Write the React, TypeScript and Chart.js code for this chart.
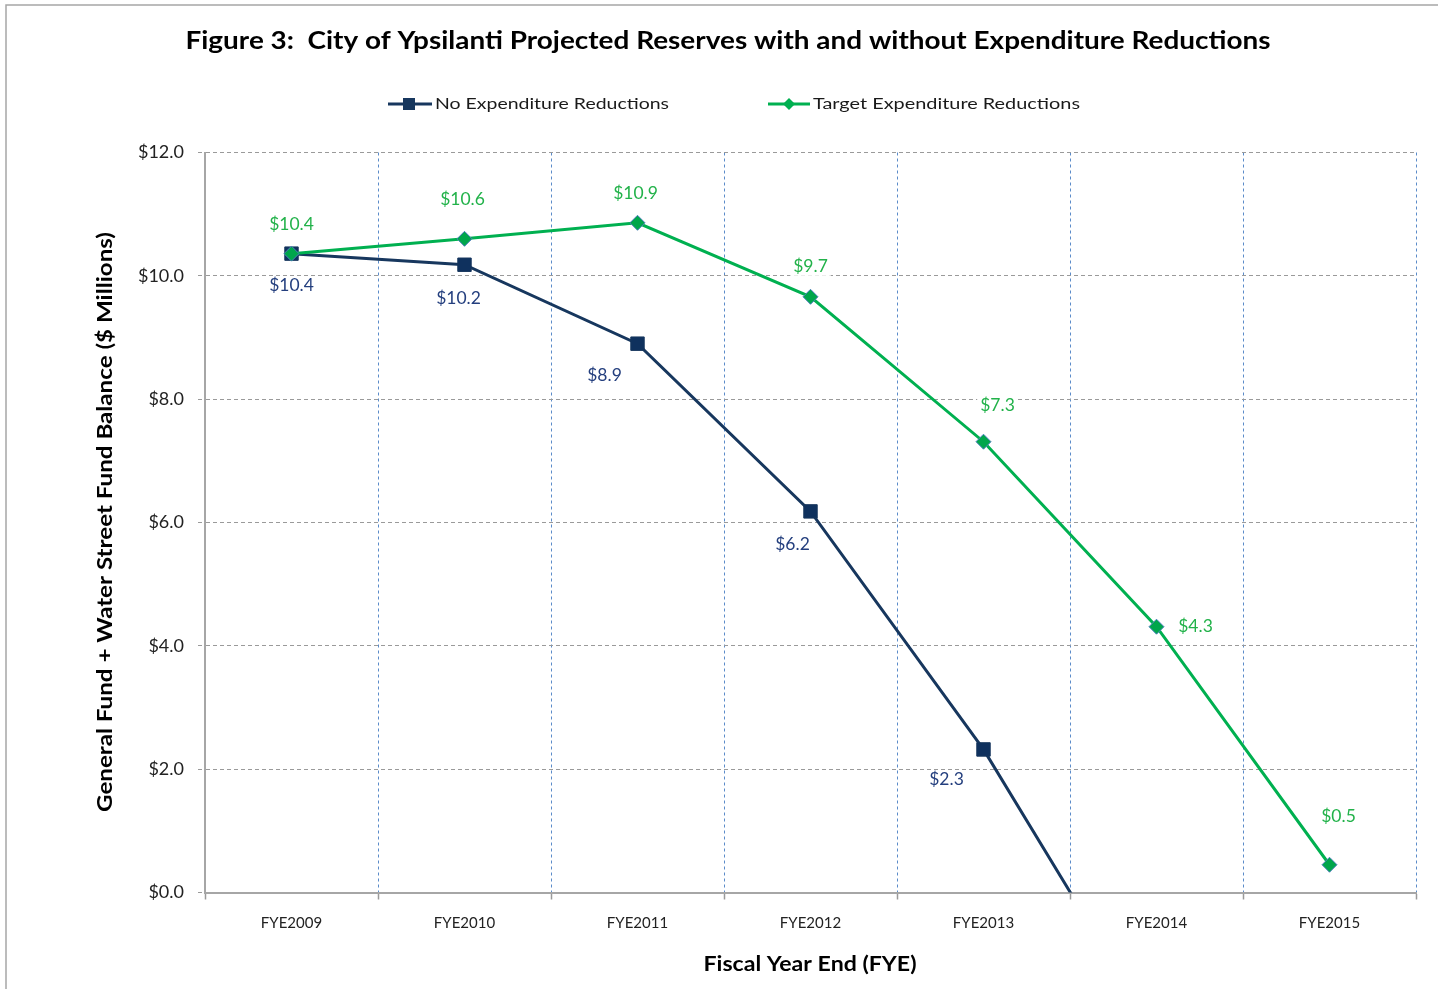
import React, { useEffect, useRef } from "react";
import { Chart, registerables } from "chart.js";

Chart.register(...registerables);

// ---------- data ----------
const categories = ["FYE2009", "FYE2010", "FYE2011", "FYE2012", "FYE2013", "FYE2014", "FYE2015"];
const noReductions: (number | null)[] = [10.36, 10.18, 8.9, 6.18, 2.32, -2.3, null];
const targetReductions: (number | null)[] = [10.36, 10.6, 10.86, 9.66, 7.31, 4.31, 0.45];
const yMin = 0;
const yMax = 12;
const yStep = 2;
const seriesNames = ["No Expenditure Reductions", "Target Expenditure Reductions"];
const titleText = "Figure 3:  City of Ypsilanti Projected Reserves with and without Expenditure Reductions";
const yTitle = "General Fund + Water Street Fund Balance ($ Millions)";
const xTitle = "Fiscal Year End (FYE)";

// ---------- label placement (styling) ----------
const blueLabelDx = [0, -6, -33, -18, -37, 0, 0];
const blueLabelDy = [32, 34, 32, 33, 30, 0, 0];
const greenLabelDx = [0, -2, -2, 0, 14, 39, 9];
const greenLabelDy = [-29, -39, -29, -30, -36, 0, -48];

const FONT = "Lato, 'Open Sans', sans-serif";
const BLUE = "#17375E";
const GREEN = "#00B050";
const BLUE_TEXT = "#243F7E";
const GREEN_TEXT = "#22B24A";

function drawFitted(
  ctx: CanvasRenderingContext2D,
  text: string,
  cx: number,
  cy: number,
  size: number,
  weight: string,
  targetW: number,
  color: string,
  align: "center" | "left" = "center",
  rotate = 0
) {
  ctx.save();
  ctx.font = `${weight} ${size}px ${FONT}`;
  const w = ctx.measureText(text).width;
  ctx.translate(cx, cy);
  if (rotate) ctx.rotate(rotate);
  ctx.scale(targetW / w, 1);
  ctx.fillStyle = color;
  ctx.textAlign = align;
  ctx.textBaseline = "middle";
  ctx.fillText(text, 0, 0);
  ctx.restore();
}

const decorPlugin = {
  id: "decor",
  beforeDraw(chart: any) {
    const ctx: CanvasRenderingContext2D = chart.ctx;
    ctx.save();
    ctx.fillStyle = "#ffffff";
    ctx.fillRect(0, 0, chart.width, chart.height);
    ctx.strokeStyle = "#a6a6a6";
    ctx.lineWidth = 1.5;
    ctx.beginPath();
    ctx.moveTo(6, chart.height + 2);
    ctx.lineTo(6, 5);
    ctx.lineTo(chart.width + 2, 5);
    ctx.stroke();
    ctx.restore();
  },
  afterDraw(chart: any) {
    const ctx: CanvasRenderingContext2D = chart.ctx;
    // title
    drawFitted(ctx, titleText, 728, 41, 24, "bold", 1085, "#000");
    // legend
    ctx.save();
    ctx.lineWidth = 3;
    ctx.strokeStyle = BLUE;
    ctx.beginPath();
    ctx.moveTo(388, 104);
    ctx.lineTo(432, 104);
    ctx.stroke();
    ctx.fillStyle = BLUE;
    ctx.fillRect(403, 98, 12, 12);
    ctx.strokeStyle = GREEN;
    ctx.beginPath();
    ctx.moveTo(768, 104);
    ctx.lineTo(810, 104);
    ctx.stroke();
    ctx.fillStyle = GREEN;
    ctx.beginPath();
    ctx.moveTo(789, 98);
    ctx.lineTo(795, 104);
    ctx.lineTo(789, 110);
    ctx.lineTo(783, 104);
    ctx.closePath();
    ctx.fill();
    ctx.restore();
    drawFitted(ctx, seriesNames[0], 435, 104, 15.5, "normal", 234, "#1a1a1a", "left");
    drawFitted(ctx, seriesNames[1], 813, 104, 15.5, "normal", 267, "#1a1a1a", "left");
    // axis titles
    drawFitted(ctx, yTitle, 106, 522, 20, "bold", 580, "#000", "center", -Math.PI / 2);
    drawFitted(ctx, xTitle, 810, 965, 20, "bold", 213, "#000", "center");
  },
  afterDatasetsDraw(chart: any) {
    const ctx: CanvasRenderingContext2D = chart.ctx;
    const area = chart.chartArea;
    const specs = [
      { ds: 0, dx: blueLabelDx, dy: blueLabelDy, color: BLUE_TEXT },
      { ds: 1, dx: greenLabelDx, dy: greenLabelDy, color: GREEN_TEXT },
    ];
    ctx.save();
    ctx.font = `normal 17.5px ${FONT}`;
    ctx.textAlign = "center";
    ctx.textBaseline = "middle";
    for (const s of specs) {
      const meta = chart.getDatasetMeta(s.ds);
      const data = chart.data.datasets[s.ds].data as (number | null)[];
      meta.data.forEach((pt: any, i: number) => {
        const v = data[i];
        if (v === null || v === undefined || v < yMin || v > yMax) return;
        const text = "$" + v.toFixed(1);
        const x = pt.x + s.dx[i];
        const y = pt.y + s.dy[i];
        if (y > area.bottom) return;
        const w = ctx.measureText(text).width;
        ctx.fillStyle = "#ffffff";
        ctx.fillRect(x - w / 2 - 3, y - 9, w + 6, 18);
        ctx.fillStyle = s.color;
        ctx.fillText(text, x, y);
      });
    }
    ctx.restore();
  },
};

export default function App() {
  const ref = useRef<HTMLCanvasElement>(null);
  useEffect(() => {
    if (!ref.current) return;
    const chart = new Chart(ref.current, {
      type: "line",
      data: {
        labels: categories,
        datasets: [
          {
            label: seriesNames[0],
            data: noReductions,
            borderColor: BLUE,
            backgroundColor: BLUE,
            borderWidth: 3,
            pointStyle: "rect",
            pointRadius: 9.5,
            pointBackgroundColor: "#0F315E",
            pointBorderColor: BLUE,
            pointBorderWidth: 1,
            tension: 0,
            order: 1,
          },
          {
            label: seriesNames[1],
            data: targetReductions,
            borderColor: GREEN,
            backgroundColor: GREEN,
            borderWidth: 3,
            pointStyle: "rectRot",
            pointRadius: 7.5,
            pointBackgroundColor: "#00A64B",
            pointBorderColor: "#4F81BD",
            pointBorderWidth: 1,
            tension: 0,
            order: 0,
          },
        ],
      },
      options: {
        responsive: false,
        animation: false,
        layout: { padding: { left: 0, top: 152.5, right: 22, bottom: 0 } },
        plugins: {
          legend: { display: false },
          title: { display: false },
          tooltip: { enabled: false },
        },
        scales: {
          x: {
            type: "category",
            offset: true,
            afterFit: (s: any) => {
              s.height = 96.5;
            },
            grid: {
              offset: true,
              color: "#5B8BC9",
              lineWidth: 1,
              tickColor: "#9a9a9a",
              tickLength: 7,
              tickWidth: 1.5,
              tickBorderDash: [],
            },
            border: { color: "#a6a6a6", width: 2, dash: [3, 3] },
            ticks: {
              autoSkip: false,
              maxRotation: 0,
              padding: 15,
              color: "#222",
              font: { family: FONT, size: 15 },
            },
          },
          y: {
            min: yMin,
            max: yMax,
            afterFit: (s: any) => {
              s.width = 205;
            },
            grid: {
              color: "#9a9a9a",
              lineWidth: 1,
              tickColor: "#9a9a9a",
              tickLength: 7,
              tickBorderDash: [4, 3],
            },
            border: { color: "#a6a6a6", width: 2, dash: [4, 3] },
            ticks: {
              stepSize: yStep,
              padding: 14,
              color: "#222",
              font: { family: FONT, size: 18 },
              callback: (v: any) => "$" + Number(v).toFixed(1),
            },
          },
        },
      },
      plugins: [decorPlugin],
    } as any);
    return () => chart.destroy();
  }, []);
  return (
    <div
      style={{
        position: "fixed",
        left: 0,
        top: 0,
        width: 1438,
        height: 989,
        overflow: "hidden",
        background: "#fff",
      }}
    >
      <canvas ref={ref} width={1438} height={989} style={{ display: "block" }} />
    </div>
  );
}
